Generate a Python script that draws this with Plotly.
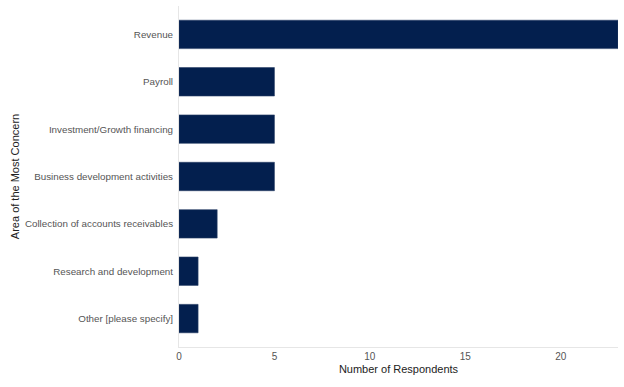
import plotly.graph_objects as go

categories = ["Revenue", "Payroll", "Investment/Growth financing", "Business development activities",
              "Collection of accounts receivables", "Research and development", "Other [please specify]"]
values = [23, 5, 5, 5, 2, 1, 1]
x_ticks = [0, 5, 10, 15, 20]

fig = go.Figure(go.Bar(
    y=categories, x=values, orientation="h",
    marker=dict(color="#031f4e", line=dict(color="#2a3f66", width=0.6)),
    width=0.6,
))
fig.update_layout(
    width=624, height=387,
    margin=dict(l=179, r=6, t=6, b=40, autoexpand=False),
    plot_bgcolor="white", paper_bgcolor="white",
    font=dict(family="Liberation Sans, Arial, sans-serif", size=10, color="#555555"),
    showlegend=False,
)
fig.update_xaxes(
    range=[0, 23], tickvals=x_ticks, showgrid=False, zeroline=False,
    showline=True, linecolor="#e6e6e6", linewidth=1,
    ticks="", ticklen=0, automargin=False, ticklabelstandoff=0,
    title=dict(text="Number of Respondents", font=dict(size=11, color="#222222"), standoff=4),
    tickfont=dict(size=10, color="#555555"),
)
fig.update_yaxes(
    categoryorder="array", categoryarray=categories[::-1], range=[-0.6, 6.6],
    showgrid=False, zeroline=False, showline=True, linecolor="#e6e6e6", linewidth=1,
    ticks="", ticklen=0, automargin=False, ticklabelstandoff=3,
    title=dict(text="Area of the Most Concern", font=dict(size=11, color="#222222"), standoff=3),
    tickfont=dict(size=9.8, color="#555555"),
)
fig.write_html("out.html", post_script="document.body.style.margin='0';",
               config={"displayModeBar": False})
